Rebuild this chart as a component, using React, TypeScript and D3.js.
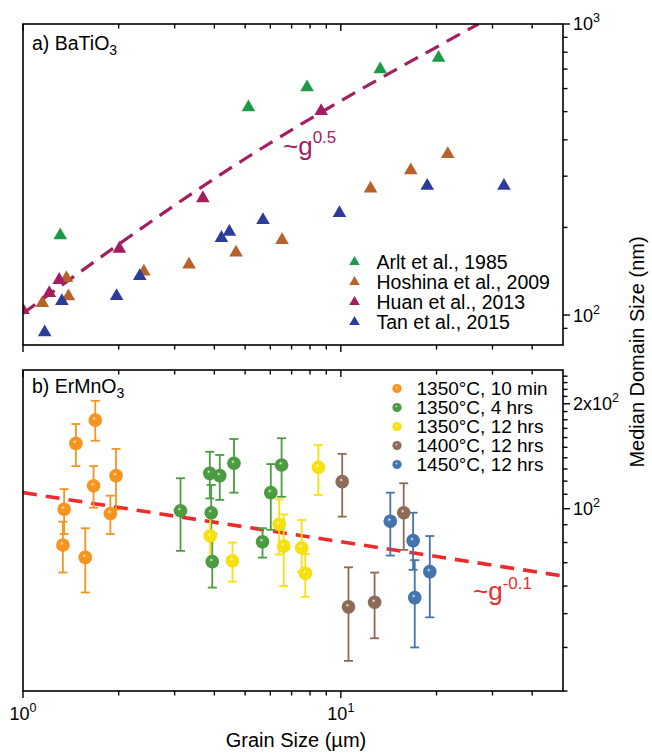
import React from 'react';
import * as d3 from 'd3';

// ---------- data ----------
const xDomain = [1, 50];
const topYDomain = [78.9, 1000];
const botYDomain = [30, 250];

const xMinorTicks = [2, 3, 4, 5, 6, 7, 8, 9, 20, 30, 40];
const xMajorTicks = [1, 10];
const topMinorTicks = [90, 200, 300, 400, 500, 600, 700, 800, 900];
const topMajorTicks = [100, 1000];
const botMinorTicks = [30, 40, 50, 60, 70, 80, 90, 110, 120, 130, 140, 150, 160, 170, 180, 190, 210, 220, 230, 240];
const botMajorTicks = [100, 200];

// panel a) BaTiO3
const arltX = [1.31, 5.12, 7.83, 13.3, 20.3];
const arltY = [188, 517, 606, 698, 765];
const hoshinaX = [1.15, 1.37, 1.39, 2.40, 3.33, 4.68, 6.53, 12.4, 16.6, 21.7];
const hoshinaY = [110, 134, 116, 141, 149, 164, 181, 272, 314, 357];
const huanX = [1.0, 1.21, 1.30, 2.01, 3.68, 8.67];
const huanY = [104, 119, 132, 169, 252, 502];
const tanX = [1.17, 1.325, 1.97, 2.33, 4.21, 4.46, 5.69, 9.9, 18.7, 32.6];
const tanY = [87.2, 111.7, 116.2, 136, 184, 193, 212, 224, 278, 278];
const topFitX = [1, 5.01, 27.1];
const topFitY = [101.3, 345, 1000];

// panel b) ErMnO3
const oX = [1.347, 1.335, 1.467, 1.57, 1.688, 1.667, 1.883, 1.962];
const oY = [99.7, 78.7, 154, 72.5, 179.6, 116.4, 96.9, 124.4];
const oLo = [84.6, 65.6, 132.5, 57.5, 156.7, 100.7, 84.6, 99.4];
const oHi = [113.8, 91.8, 175, 87.9, 204, 132.5, 109, 148.5];

const gX = [3.13, 3.87, 4.16, 4.61, 3.91, 3.94, 5.67, 6.02, 6.51];
const gY = [98.7, 126.3, 124.4, 135, 97.4, 70.5, 80.4, 111.2, 133.5];
const gLo = [75.7, 107, 106, 111.2, 84.6, 59.4, 72.4, 87, 108.2];
const gHi = [122.3, 145.7, 142.6, 158.5, 117, 84.6, 87.9, 134.3, 159.3];

const yX = [3.88, 4.56, 6.40, 6.61, 7.53, 7.73, 8.50];
const yY = [83.6, 70.9, 90.2, 78.2, 77.3, 65.3, 131.5];
const yLo = [71.2, 61.8, 73.9, 60, 66, 55.9, 109.5];
const yHi = [96.3, 80, 106.4, 96.3, 92.8, 74.1, 152.3];

const bX = [10.1, 10.57, 12.77, 15.77];
const bY = [119.6, 52.3, 53.9, 97.4];
const bLo = [94.9, 36.6, 42.5, 76.2];
const bHi = [143.6, 67.9, 65.6, 118.3];

const uX = [14.31, 16.88, 17.08, 19.05];
const uY = [92.1, 81, 55.6, 66];
const uLo = [73.4, 66.8, 40, 48.8];
const uHi = [111.2, 97.4, 71.2, 83.5];

const botFitX = [1, 50];
const botFitY = [111.2, 64.1];

const topLegend = ['Arlt et al., 1985', 'Hoshina et al., 2009', 'Huan et al., 2013', 'Tan et al., 2015'];
const botLegend = ['1350°C, 10 min', '1350°C, 4 hrs', '1350°C, 12 hrs', '1400°C, 12 hrs', '1450°C, 12 hrs'];

// ---------- layout / style ----------
const W = 652, H = 753;
const L = 23, R = 563;
const TOP0 = 24, TOP1 = 345;
const BOT0 = 370, BOT1 = 691;
const FONT = "'Liberation Sans', Arial, Helvetica, sans-serif";

const triColors = ['#1d9a48', '#b8622b', '#a51d5f', '#2d3c9c'];
const sphColors = ['#f7941e', '#4b9c40', '#f7e10c', '#8d6b58', '#4474ad'];
const sphDark = ['#c86a08', '#2d7526', '#c9b000', '#654838', '#2a527f'];

export default function App() {
  const x = d3.scaleLog().domain(xDomain).range([L, R]);
  const yT = d3.scaleLog().domain(topYDomain).range([TOP1, TOP0]);
  const yB = d3.scaleLog().domain(botYDomain).range([BOT1, BOT0]);

  const triBig = d3.symbol(d3.symbolTriangle, 80)() as string;
  const triSmall = d3.symbol(d3.symbolTriangle, 48)() as string;

  const topSeries = [
    { xs: arltX, ys: arltY },
    { xs: hoshinaX, ys: hoshinaY },
    { xs: huanX, ys: huanY },
    { xs: tanX, ys: tanY },
  ];
  const botSeries = [
    { xs: oX, ys: oY, lo: oLo, hi: oHi },
    { xs: gX, ys: gY, lo: gLo, hi: gHi },
    { xs: yX, ys: yY, lo: yLo, hi: yHi },
    { xs: bX, ys: bY, lo: bLo, hi: bHi },
    { xs: uX, ys: uY, lo: uLo, hi: uHi },
  ];

  const lineT = d3.line<number>().x((_, i) => x(topFitX[i])).y((_, i) => yT(topFitY[i])).curve(d3.curveNatural);
  const lineB = d3.line<number>().x((_, i) => x(botFitX[i])).y((_, i) => yB(botFitY[i]));

  const xTickMarks = (yBase: number, key: string) => (
    <g key={key} stroke="#000" strokeWidth={1.4}>
      {xMajorTicks.map(t => <line key={'M' + t} x1={x(t)} x2={x(t)} y1={yBase} y2={yBase + 7} />)}
      {xMinorTicks.map(t => <line key={'m' + t} x1={x(t)} x2={x(t)} y1={yBase} y2={yBase + 4.5} />)}
    </g>
  );
  const yTickMarks = (scale: any, major: number[], minor: number[], key: string) => (
    <g key={key} stroke="#000" strokeWidth={1.4}>
      {major.map(t => <line key={'M' + t} x1={R} x2={R + 7} y1={scale(t)} y2={scale(t)} />)}
      {minor.map(t => <line key={'m' + t} x1={R} x2={R + 4.5} y1={scale(t)} y2={scale(t)} />)}
    </g>
  );

  const sphere = (cx: number, cy: number, r: number, i: number, key: string) => (
    <circle key={key} cx={cx} cy={cy} r={r} fill={`url(#sph${i})`} />
  );

  return (
    <div style={{ position: 'absolute', left: 0, top: 0, width: W, height: H, background: '#fff' }}>
      <svg width={W} height={H} style={{ display: 'block' }} fontFamily={FONT}>
        <defs>
          {sphColors.map((c, i) => (
            <radialGradient key={i} id={`sph${i}`} cx="0.5" cy="0.5" r="0.55" fx="0.42" fy="0.36">
              <stop offset="0" stopColor="#ffffff" />
              <stop offset="0.22" stopColor={c} stopOpacity={0.85} />
              <stop offset="0.3" stopColor={c} />
              <stop offset="0.85" stopColor={c} />
              <stop offset="1" stopColor={sphDark[i]} />
            </radialGradient>
          ))}
          <clipPath id="clipT"><rect x={L} y={TOP0} width={R - L} height={TOP1 - TOP0} /></clipPath>
          <clipPath id="clipB"><rect x={L} y={BOT0} width={R - L} height={BOT1 - BOT0} /></clipPath>
        </defs>

        {/* ---------- top panel ---------- */}
        <g clipPath="url(#clipT)">
          <path d={lineT(topFitX) as string} fill="none" stroke="#a2205f" strokeWidth={3.2} strokeDasharray="15 9" />
          {topSeries.map((s, si) => s.xs.map((xv, i) => (
            <path key={`t${si}-${i}`} d={triBig} transform={`translate(${x(xv)},${yT(s.ys[i])})`} fill={triColors[si]} />
          )))}
        </g>
        <text x={283} y={155} fill="#a2205f" fontSize={26}>~g<tspan dy={-12} fontSize={17}>0.5</tspan></text>
        <text x={32} y={50} fontSize={19.5}>a) BaTiO<tspan dy={5} fontSize={14}>3</tspan></text>
        {topLegend.map((t, i) => (
          <g key={'tl' + i}>
            <path d={triSmall} transform={`translate(${354.5},${262 + i * 20})`} fill={triColors[i]} />
            <text x={376.5} y={262 + i * 20} dy="0.36em" fontSize={19.5}>{t}</text>
          </g>
        ))}
        <rect x={L} y={TOP0} width={R - L} height={TOP1 - TOP0} fill="none" stroke="#000" strokeWidth={1.6} />
        {xTickMarks(TOP0, 'tt')}
        {xTickMarks(TOP1, 'tb')}
        {yTickMarks(yT, topMajorTicks, topMinorTicks, 'ty')}
        <text x={R + 10} y={yT(1000)} dy="0.36em" fontSize={18}>10<tspan dy={-8} fontSize={12.5}>3</tspan></text>
        <text x={R + 10} y={yT(100)} dy="0.36em" fontSize={18}>10<tspan dy={-8} fontSize={12.5}>2</tspan></text>

        {/* ---------- bottom panel ---------- */}
        <g clipPath="url(#clipB)">
          <path d={lineB(botFitX) as string} fill="none" stroke="#ef2a2d" strokeWidth={3.6} strokeDasharray="14 9" />
          {botSeries.map((s, si) => s.xs.map((xv, i) => {
            const cx = x(xv);
            return (
              <g key={`e${si}-${i}`} stroke={sphColors[si]} strokeWidth={1.8}>
                <line x1={cx} x2={cx} y1={yB(s.lo[i])} y2={yB(s.hi[i])} />
                <line x1={cx - 4.5} x2={cx + 4.5} y1={yB(s.lo[i])} y2={yB(s.lo[i])} />
                <line x1={cx - 4.5} x2={cx + 4.5} y1={yB(s.hi[i])} y2={yB(s.hi[i])} />
              </g>
            );
          }))}
          {botSeries.map((s, si) => s.xs.map((xv, i) => sphere(x(xv), yB(s.ys[i]), 6.8, si, `s${si}-${i}`)))}
        </g>
        <text x={473} y={600} fill="#ef2a2d" fontSize={26}>~g<tspan dy={-11} fontSize={17}>-0.1</tspan></text>
        <text x={32} y={393} fontSize={19.5}>b) ErMnO<tspan dy={5} fontSize={14}>3</tspan></text>
        {botLegend.map((t, i) => (
          <g key={'bl' + i}>
            {sphere(397, 388.5 + i * 19, 4.6, i, 'ls' + i)}
            <text x={416.5} y={388.5 + i * 19} dy="0.36em" fontSize={19}>{t}</text>
          </g>
        ))}
        <rect x={L} y={BOT0} width={R - L} height={BOT1 - BOT0} fill="none" stroke="#000" strokeWidth={1.6} />
        {xTickMarks(BOT0, 'bt')}
        {xTickMarks(BOT1, 'bb')}
        {yTickMarks(yB, botMajorTicks, botMinorTicks, 'by')}
        <text x={R + 10} y={yB(200)} dy="0.36em" fontSize={18}>2x10<tspan dy={-8} fontSize={12.5}>2</tspan></text>
        <text x={R + 10} y={yB(100)} dy="0.36em" fontSize={18}>10<tspan dy={-8} fontSize={12.5}>2</tspan></text>

        {/* x tick labels */}
        {xMajorTicks.map((t, i) => (
          <text key={'xl' + t} x={x(t)} y={720} textAnchor="middle" fontSize={18}>
            10<tspan dy={-8} fontSize={12.5}>{i}</tspan>
          </text>
        ))}
        <text x={296} y={747} textAnchor="middle" fontSize={20}>Grain Size (µm)</text>
        <text transform="translate(637,352) rotate(-90)" textAnchor="middle" dy="0.36em" fontSize={20}>Median Domain Size (nm)</text>
      </svg>
    </div>
  );
}
